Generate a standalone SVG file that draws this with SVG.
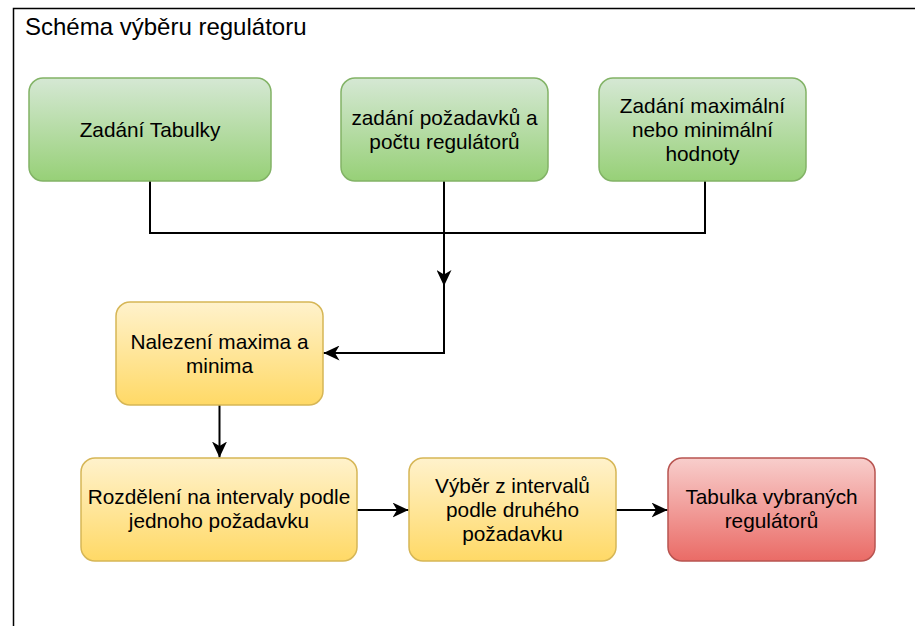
<svg xmlns="http://www.w3.org/2000/svg" width="915" height="626" viewBox="0 0 915 626">
<defs>
<linearGradient id="gGreen" x1="0" y1="0" x2="0" y2="1"><stop offset="0" stop-color="#d5e8d4"/><stop offset="1" stop-color="#97d077"/></linearGradient>
<linearGradient id="gYellow" x1="0" y1="0" x2="0" y2="1"><stop offset="0" stop-color="#fff2cc"/><stop offset="1" stop-color="#ffd966"/></linearGradient>
<linearGradient id="gRed" x1="0" y1="0" x2="0" y2="1"><stop offset="0" stop-color="#f8cecc"/><stop offset="1" stop-color="#ea6b66"/></linearGradient>
<marker id="arr" viewBox="0 0 17 15" markerWidth="17" markerHeight="15" refX="16" refY="7.5" orient="auto" markerUnits="userSpaceOnUse">
<path d="M0,0 L16,7.5 L0,15 L4.5,7.5 Z" fill="#000"/>
</marker>
<style>
.frame{fill:#fff;stroke:#000;stroke-width:1.5}
.title{font-family:"Liberation Sans",Arial,sans-serif;font-size:24px;fill:#000}
.t{font-family:"Liberation Sans",Arial,sans-serif;font-size:20.8px;fill:#000;text-anchor:middle}
.green{fill:url(#gGreen);stroke:#82b366;stroke-width:1.5}
.yellow{fill:url(#gYellow);stroke:#d6b656;stroke-width:1.5}
.red{fill:url(#gRed);stroke:#b85450;stroke-width:1.5}
.edge{fill:none;stroke:#000;stroke-width:2}
</style>
</defs>
<rect class="frame" x="13.5" y="8.5" width="1000" height="700"/>
<text class="title" x="25" y="35">Schéma výběru regulátoru</text>
<g id="connectors">
<path class="edge" d="M150,181 V233 H705 V181"/>
<path class="edge" d="M444,181 V286" marker-end="url(#arr)"/>
<path class="edge" d="M444,284 V353 H323.5" marker-end="url(#arr)"/>
<path class="edge" d="M219.5,405 V457.5" marker-end="url(#arr)"/>
<path class="edge" d="M357,510 H408.5" marker-end="url(#arr)"/>
<path class="edge" d="M616,510 H667.5" marker-end="url(#arr)"/>
</g>
<g id="n1"><rect class="green" x="29" y="78" width="242" height="103" rx="14"/><text class="t" x="150" y="137">Zadání Tabulky</text></g>
<g id="n2"><rect class="green" x="341" y="78" width="207" height="103" rx="14"/><text class="t" x="444.5" y="125">zadání požadavků a</text><text class="t" x="444.5" y="149">počtu regulátorů</text></g>
<g id="n3"><rect class="green" x="599" y="78" width="207" height="103" rx="14"/><text class="t" x="702.5" y="113">Zadání maximální</text><text class="t" x="702.5" y="137">nebo minimální</text><text class="t" x="702.5" y="161">hodnoty</text></g>
<g id="n4"><rect class="yellow" x="116" y="302" width="207" height="103" rx="14"/><text class="t" x="219.5" y="349">Nalezení maxima a</text><text class="t" x="219.5" y="373">minima</text></g>
<g id="n5"><rect class="yellow" x="81" y="458" width="276" height="103" rx="14"/><text class="t" x="219" y="504">Rozdělení na intervaly podle</text><text class="t" x="219" y="528">jednoho požadavku</text></g>
<g id="n6"><rect class="yellow" x="409" y="458" width="207" height="103" rx="14"/><text class="t" x="512.5" y="493">Výběr z intervalů</text><text class="t" x="512.5" y="517">podle druhého</text><text class="t" x="512.5" y="541">požadavku</text></g>
<g id="n7"><rect class="red" x="668" y="458" width="207" height="103" rx="14"/><text class="t" x="771.5" y="504">Tabulka vybraných</text><text class="t" x="771.5" y="528">regulátorů</text></g>
</svg>
